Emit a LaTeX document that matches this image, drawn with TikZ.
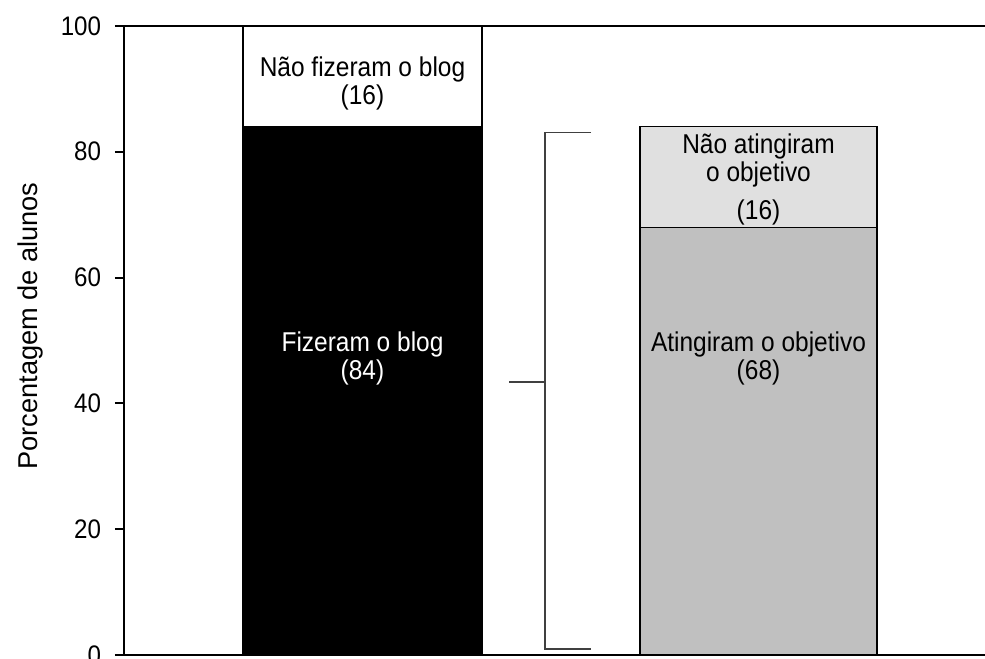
\documentclass[tikz,border=0pt]{standalone}
\usepackage{fontspec}
\setmainfont{Liberation Sans}[FakeStretch=0.9]
\newfontfamily\ylabelfont{Liberation Sans}
\usetikzlibrary{positioning}
\definecolor{barGray} {RGB}{192, 192, 192}
\definecolor{barPale} {RGB}{224, 224, 224}
\definecolor{brkGray} {RGB}{64,  64,  64}

\begin{document}
\begin{tikzpicture}[x=0.5pt, y=3.145pt, font=\fontsize{13.6}{14}\selectfont]
  \def\R{861}    % right end of frame lines
  \def\T{100}    % top of scale

  \useasboundingbox (-124,-0.636) rectangle (\R,104.13);

  % ---- Bar 1: black (84) and white (16) ----
  \fill[black] (119,0) rectangle (358,84);
  \draw[line width=0.75pt] (119,0) rectangle (358,84);
  \draw[line width=0.75pt] (119,84) rectangle (358,\T);
  \node[align=center] (naoFez) at (238.5,90.9) {Não fizeram o blog\\(16)};
  \node[align=center, text=white] (fez) at (238.5,47.2) {Fizeram o blog\\(84)};

  % ---- Bar 2: gray (68) and pale (16) ----
  \fill[barGray] (516,0) rectangle (753,68);
  \draw[line width=0.75pt] (516,0) rectangle (753,68);
  \fill[barPale] (516,68) rectangle (753,84);
  \draw[line width=0.75pt] (516,68) rectangle (753,84);
  \node[align=center] (naoAting) at (634.5,78.6) {Não atingiram\\o objetivo};
  \node (naoAtingN) at (634.5,70.3) {(16)};
  \node[align=center] (ating) at (634.5,47.2) {Atingiram o objetivo\\(68)};

  % ---- Bracket ----
  \coordinate (brkTopEnd) at (467,83.1);
  \coordinate (brkTop)    at (421,83.1);
  \coordinate (brkBot)    at (421,0.95);
  \coordinate (brkBotEnd) at (467,0.95);
  \coordinate (brkJoin)   at (421,43.4);
  \coordinate (brkMid)    at (385,43.4);
  \draw[line width=0.6pt, brkGray] (brkTopEnd) -- (brkTop) -- (brkBot) -- (brkBotEnd);
  \draw[line width=0.6pt, brkGray] (brkMid) -- (brkJoin);

  % ---- Frame and scale ----
  \draw[line width=1pt] (\R,\T) -- (0,\T) -- (0,0) -- (\R,0);
  \foreach \v in {0,20,...,100}
    \draw[line width=1pt] (-9,\v) -- (0,\v)
      node[anchor=east, inner sep=0pt, font=\fontsize{13.4}{14}\selectfont] (tick\v) at (-22,\v) {\v};

  \node[rotate=90, font=\ylabelfont\fontsize{13.6}{16}\selectfont] (ylab) at (-94,52.3)
    {Porcentagem de alunos};
\end{tikzpicture}
\end{document}
